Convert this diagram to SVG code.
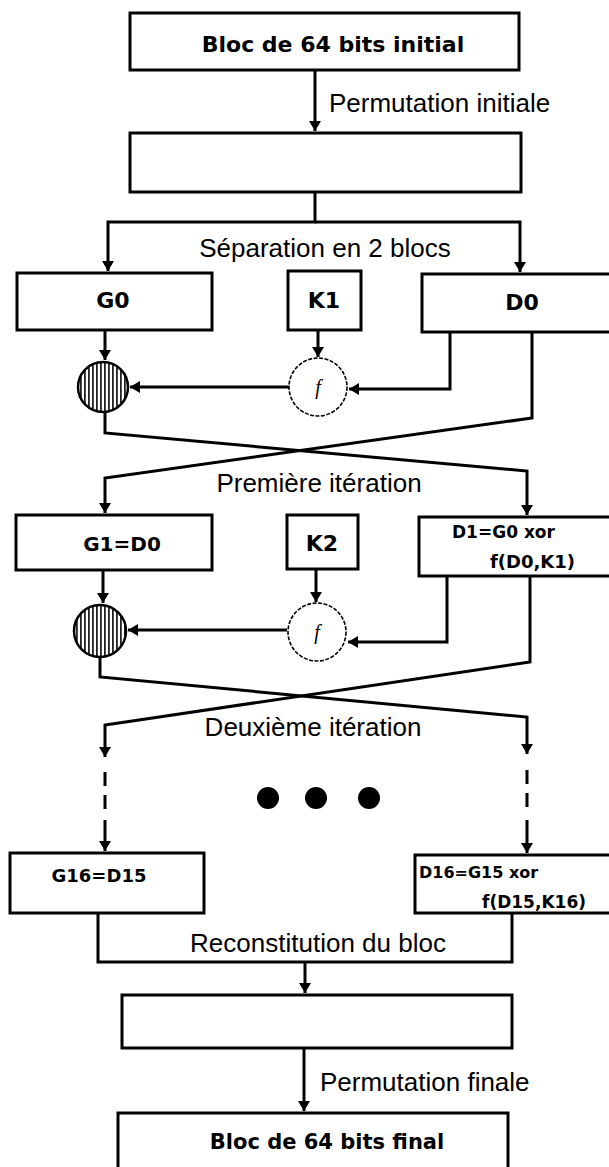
<svg xmlns="http://www.w3.org/2000/svg" width="609" height="1167" viewBox="0 0 609 1167">
<style>
.box{fill:#fff;stroke:#000;stroke-width:3}
.ln{fill:none;stroke:#000;stroke-width:3}
.dash{fill:none;stroke:#000;stroke-width:3;stroke-dasharray:14 9}
.bold{font-family:"DejaVu Sans","Liberation Sans",sans-serif;font-weight:bold;fill:#000}
.reg{font-family:"Liberation Sans",Arial,sans-serif;font-size:26px;fill:#000}
.fcirc{fill:#fff;stroke:#000;stroke-width:1.6;stroke-dasharray:4 1.5}
.xcirc{fill:url(#hatch);stroke:#000;stroke-width:2.5}
.ftxt{font-family:"Liberation Serif",serif;font-style:italic;font-size:20px;fill:#000}
</style>
<defs>
<marker id="arr" markerUnits="userSpaceOnUse" markerWidth="14" markerHeight="12" refX="10" refY="6" orient="auto">
<path d="M0,0 L10,6 L0,12 Z" fill="#000"/>
</marker>
<pattern id="hatch" patternUnits="userSpaceOnUse" width="4" height="8">
<rect width="4" height="8" fill="#fff"/>
<rect x="0" width="1.8" height="8" fill="#222"/>
</pattern>
</defs>

<g id="connectors">
<path class="ln" d="M315 70 V131" marker-end="url(#arr)"/>
<path class="ln" d="M315 192 V222 H108 V271" marker-end="url(#arr)"/>
<path class="ln" d="M315 222 H520 V272" marker-end="url(#arr)"/>
<path class="ln" d="M105 330 V360" marker-end="url(#arr)"/>
<path class="ln" d="M318 330 V357" marker-end="url(#arr)"/>
<path class="ln" d="M450 332 V389 H349" marker-end="url(#arr)"/>
<path class="ln" d="M289 387 H130" marker-end="url(#arr)"/>
<path class="ln" d="M105 412 V433 L527 471 V515" marker-end="url(#arr)"/>
<path class="ln" d="M532 332 V418 L105 478 V513" marker-end="url(#arr)"/>
<path class="ln" d="M103 570 V603" marker-end="url(#arr)"/>
<path class="ln" d="M316 569 V602" marker-end="url(#arr)"/>
<path class="ln" d="M447 576 V642 H348" marker-end="url(#arr)"/>
<path class="ln" d="M287 630 H128" marker-end="url(#arr)"/>
<path class="ln" d="M100 658 V677 L527 717 V754" marker-end="url(#arr)"/>
<path class="ln" d="M530 576 V662 L105 725 V757" marker-end="url(#arr)"/>
<path class="dash" d="M105 772 V815"/>
<path class="dash" d="M527 770 V815"/>
<path class="ln" d="M105 820 V851" marker-end="url(#arr)"/>
<path class="ln" d="M527 820 V853" marker-end="url(#arr)"/>
<path class="ln" d="M98 913 V962 H512 V913"/>
<path class="ln" d="M305 962 V993" marker-end="url(#arr)"/>
<path class="ln" d="M304 1048 V1111" marker-end="url(#arr)"/>
</g>

<g id="labels">
<text class="reg" x="329" y="112">Permutation initiale</text>
<text class="reg" x="325" y="257" text-anchor="middle">Séparation en 2 blocs</text>
<text class="reg" x="319" y="492" text-anchor="middle">Première itération</text>
<text class="reg" x="313" y="736" text-anchor="middle">Deuxième itération</text>
<text class="reg" x="318" y="952" text-anchor="middle">Reconstitution du bloc</text>
<text class="reg" x="320" y="1091">Permutation finale</text>
</g>

<g id="top"><rect class="box" x="130" y="13" width="389" height="57"/>
<text class="bold" x="333" y="52" font-size="22" text-anchor="middle">Bloc de 64 bits initial</text></g>
<g id="perm1"><rect class="box" x="130" y="133" width="391" height="59"/></g>

<g id="G0"><rect class="box" x="17" y="273" width="195" height="57"/>
<text class="bold" x="113" y="308" font-size="22" text-anchor="middle">G0</text></g>
<g id="K1"><rect class="box" x="288" y="271" width="73" height="59"/>
<text class="bold" x="324" y="308" font-size="22" text-anchor="middle">K1</text></g>
<g id="D0"><rect class="box" x="422" y="274" width="200" height="58"/>
<text class="bold" x="522" y="310" font-size="22" text-anchor="middle">D0</text></g>
<g id="xor1"><circle class="xcirc" cx="103" cy="387" r="25"/></g>
<g id="f1"><circle class="fcirc" cx="318" cy="387" r="29"/>
<text class="ftxt" x="318" y="394" text-anchor="middle">f</text></g>

<g id="G1"><rect class="box" x="16" y="515" width="196" height="55"/>
<text class="bold" x="122" y="551" font-size="20" text-anchor="middle">G1=D0</text></g>
<g id="K2"><rect class="box" x="287" y="515" width="71" height="54"/>
<text class="bold" x="322" y="551" font-size="22" text-anchor="middle">K2</text></g>
<g id="D1"><rect class="box" x="419" y="517" width="203" height="59"/>
<text class="bold" x="452" y="538" font-size="17">D1=G0 xor</text>
<text class="bold" x="490" y="568" font-size="18">f(D0,K1)</text></g>
<g id="xor2"><circle class="xcirc" cx="100" cy="631" r="26"/></g>
<g id="f2"><circle class="fcirc" cx="317" cy="632" r="29"/>
<text class="ftxt" x="317" y="639" text-anchor="middle">f</text></g>

<g id="dots">
<circle cx="268" cy="798" r="11" fill="#000"/>
<circle cx="316" cy="798" r="11" fill="#000"/>
<circle cx="369" cy="798" r="11" fill="#000"/>
</g>

<g id="G16"><rect class="box" x="10" y="853" width="194" height="60"/>
<text class="bold" x="99" y="882" font-size="18" text-anchor="middle">G16=D15</text></g>
<g id="D16"><rect class="box" x="415" y="855" width="207" height="58"/>
<text class="bold" x="419" y="878" font-size="16">D16=G15 xor</text>
<text class="bold" x="482" y="908" font-size="17">f(D15,K16)</text></g>

<g id="perm2"><rect class="box" x="122" y="995" width="390" height="53"/></g>
<g id="final"><rect class="box" x="118" y="1113" width="390" height="70"/>
<text class="bold" x="327" y="1149" font-size="21" text-anchor="middle">Bloc de 64 bits final</text></g>
</svg>
